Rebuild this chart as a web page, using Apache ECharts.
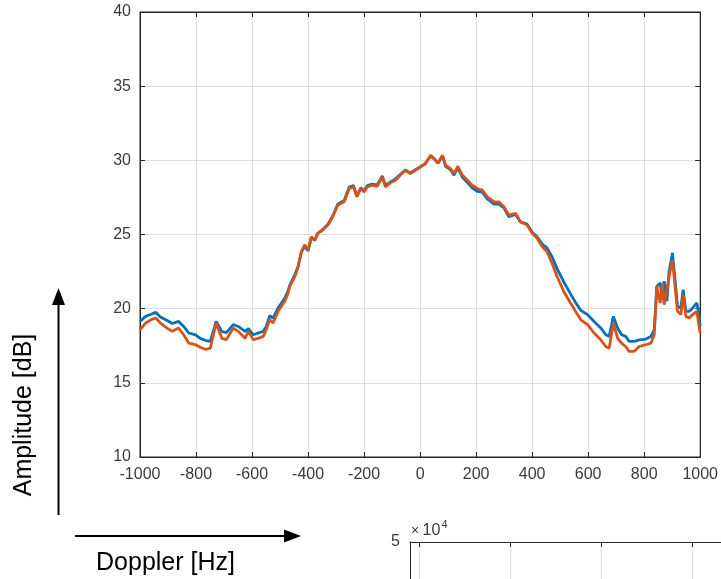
<!DOCTYPE html>
<html>
<head>
<meta charset="utf-8">
<script src="https://cdn.jsdelivr.net/npm/echarts@6/dist/echarts.min.js"></script>
<style>
html,body{margin:0;padding:0;background:#fff;}
#c{width:721px;height:579px;}
</style>
</head>
<body>
<div id="c"></div>
<script>
// Doppler frequency [Hz]
const freq = [
-1000,-980,-960,-944,-927,-903,-885,-862,-844,-826,-802,-785,-765,-749,-728,-708,-692,-667,-649,-625,-613,-596,-578,-560,-549,-537,-525,-507,-483,-472,
-465,-447,-435,-424,-412,-400,-388,-376,-365,-347,-329,-312,-294,-271,-253,-238,-226,-212,-200,-188,-171,-153,-135,-124,-106,-88,-71,-53,-35,-18,0,18,
38,50,64,80,91,109,121,135,151,169,186,204,222,240,264,281,299,317,341,358,382,400,418,436,453,471,489,513,537,554,
574,598,621,645,663,675,690,705,719,734,746,764,782,806,824,836,845,857,865,871,881,889,901,909,919,931,939,949,961,973,988,996,1000
];
// Amplitude [dB], blue trace
const blueAmp = [
19.14,19.48,19.62,19.75,19.44,19.2,19.0,19.14,18.8,18.36,18.24,18.0,17.85,17.79,19.14,18.47,18.38,18.92,18.8,18.47,18.65,18.24,18.36,18.47,18.8,19.53,19.37,20.05,20.72,21.17,
21.6,22.3,22.9,23.8,24.2,23.9,24.8,24.6,25.1,25.35,25.7,26.25,27.05,27.3,28.2,28.3,27.6,28.15,27.95,28.3,28.4,28.35,28.95,28.3,28.55,28.75,29.05,29.35,29.15,29.35,29.55,29.75,
30.3,30.1,29.8,30.3,29.6,29.35,29.0,29.5,28.85,28.5,28.15,27.9,27.85,27.4,27.05,27.05,26.8,26.2,26.35,25.85,25.7,25.15,24.85,24.35,24.1,23.5,22.7,21.8,21.0,20.45,
19.88,19.6,19.14,18.7,18.24,18.13,19.48,18.7,18.24,18.13,17.8,17.8,17.9,17.95,18.13,18.58,21.5,21.73,20.6,21.85,20.5,22.52,23.76,22.2,20.16,20.05,21.28,19.82,19.82,20.05,20.38,19.6,18.8
];
// Amplitude [dB], orange trace
const orangeAmp = [
18.58,19.03,19.26,19.37,19.03,18.69,18.47,18.69,18.24,17.68,17.57,17.4,17.25,17.34,19.03,18.0,17.91,18.69,18.47,18.0,18.47,17.91,18.0,18.13,18.58,19.26,19.03,19.82,20.5,21.01,
21.5,22.17,22.84,23.85,24.3,23.96,24.85,24.63,25.08,25.3,25.64,26.2,26.98,27.2,28.1,28.21,27.54,28.1,27.87,28.21,28.32,28.25,28.88,28.21,28.48,28.66,28.99,29.33,29.1,29.33,29.55,29.78,
30.34,30.11,29.82,30.34,29.66,29.44,29.1,29.6,28.99,28.66,28.32,28.1,27.99,27.54,27.2,27.2,26.87,26.31,26.42,25.86,25.64,25.08,24.74,24.18,23.85,23.06,22.17,21.16,20.38,19.85,
19.25,18.92,18.36,17.9,17.45,17.34,19.03,18.02,17.68,17.45,17.12,17.12,17.45,17.57,17.68,18.24,21.5,20.38,21.73,20.27,21.28,22.18,23.3,21.73,19.82,19.6,20.95,19.48,19.37,19.6,19.82,18.8,18.36
];
const xTicks = {min:-1000, max:1000, step:200};
const yTicks = {min:10, max:40, step:5};
const axisTitles = {y:'Amplitude [dB]', x:'Doppler [Hz]'};

const FONT = '"Liberation Sans", Arial, Helvetica, sans-serif';
const AX = '#262626';
const GRIDC = '#dfdfdf';
const LBL = '#3a3a3a';
const plain = v => String(v);

const chart = echarts.init(document.getElementById('c'), null, {renderer:'canvas'});

function boxAxis(extra) {
  return Object.assign({
    type:'value',
    axisLine:{show:true, onZero:false, lineStyle:{color:AX, width:1}},
    axisTick:{show:true, inside:true, length:5, lineStyle:{color:AX}},
    axisLabel:{show:false},
    splitLine:{show:false}
  }, extra);
}

const option = {
  animation:false,
  backgroundColor:'#fff',
  textStyle:{fontFamily:FONT},
  grid:[
    {left:140, top:12, width:563, height:445, show:true, borderColor:AX, borderWidth:1, backgroundColor:'transparent'},
    {left:410, top:542, right:0, bottom:0}
  ],
  xAxis:[
    {gridIndex:0, type:'value', position:'bottom', min:xTicks.min, max:xTicks.max, interval:xTicks.step,
     axisLine:{show:true, onZero:false, lineStyle:{color:AX, width:1}},
     axisTick:{show:true, inside:true, length:5, lineStyle:{color:AX}},
     axisLabel:{color:LBL, fontSize:16, fontFamily:FONT, margin:10, formatter:plain},
     splitLine:{show:true, showMinLine:false, showMaxLine:false, lineStyle:{color:GRIDC, width:1}}},
    boxAxis({gridIndex:0, position:'top', min:xTicks.min, max:xTicks.max, interval:xTicks.step}),
    {gridIndex:1, type:'value', position:'bottom', min:-0.099, max:3.319, splitNumber:4,
     axisLine:{show:false},
     axisTick:{show:false}, axisLabel:{show:false},
     splitLine:{show:true, showMinLine:false, lineStyle:{color:GRIDC}}},
    boxAxis({gridIndex:1, position:'top', min:-0.099, max:3.319, splitNumber:4})
  ],
  yAxis:[
    {gridIndex:0, type:'value', position:'left', min:yTicks.min, max:yTicks.max, interval:yTicks.step,
     axisLine:{show:true, onZero:false, lineStyle:{color:AX, width:1}},
     axisTick:{show:true, inside:true, length:5, lineStyle:{color:AX}},
     axisLabel:{color:LBL, fontSize:16, fontFamily:FONT, margin:9, formatter:plain},
     splitLine:{show:true, showMinLine:false, showMaxLine:false, lineStyle:{color:GRIDC, width:1}}},
    boxAxis({gridIndex:0, position:'right', min:yTicks.min, max:yTicks.max, interval:yTicks.step}),
    {gridIndex:1, type:'value', position:'left', min:4.8, max:5, interval:0.2,
     axisLine:{show:true, onZero:false, lineStyle:{color:AX}},
     axisTick:{show:false},
     axisLabel:{color:LBL, fontSize:16, fontFamily:FONT, margin:10, showMinLabel:false, formatter:plain},
     splitLine:{show:false}}
  ],
  series:[
    {type:'line', xAxisIndex:0, yAxisIndex:0, showSymbol:false, symbol:'none',
     data:freq.map((f,i)=>[f, blueAmp[i]]),
     lineStyle:{color:'#0072BD', width:2.8}, itemStyle:{color:'#0072BD'}, z:2},
    {type:'line', xAxisIndex:0, yAxisIndex:0, showSymbol:false, symbol:'none',
     data:freq.map((f,i)=>[f, orangeAmp[i]]),
     lineStyle:{color:'#D95319', width:2.8}, itemStyle:{color:'#D95319'}, z:3}
  ],
  graphic:[
    {type:'line', shape:{x1:58.5, y1:515, x2:58.5, y2:302}, style:{stroke:'#000', lineWidth:2}},
    {type:'polygon', shape:{points:[[52,305],[65,305],[58.5,288]]}, style:{fill:'#000'}},
    {type:'line', shape:{x1:75, y1:536, x2:287, y2:536}, style:{stroke:'#000', lineWidth:2}},
    {type:'polygon', shape:{points:[[284,529.5],[284,542.5],[301,536]]}, style:{fill:'#000'}},
    {type:'text', x:24, y:415, rotation:Math.PI/2,
     style:{text:axisTitles.y, fill:'#000', font:'25px '+FONT, align:'center', verticalAlign:'middle'}},
    {type:'text', x:165.5, y:563,
     style:{text:axisTitles.x, fill:'#000', font:'25px '+FONT, align:'center', verticalAlign:'middle'}},
    {type:'text', x:411, y:538,
     style:{text:'×', fill:LBL, font:'14px '+FONT, align:'left', verticalAlign:'bottom'}},
    {type:'text', x:422.5, y:539,
     style:{text:'10', fill:LBL, font:'16px '+FONT, align:'left', verticalAlign:'bottom'}},
    {type:'text', x:441.5, y:530,
     style:{text:'4', fill:LBL, font:'11px '+FONT, align:'left', verticalAlign:'bottom'}}
  ]
};
chart.setOption(option);
</script>
</body>
</html>
